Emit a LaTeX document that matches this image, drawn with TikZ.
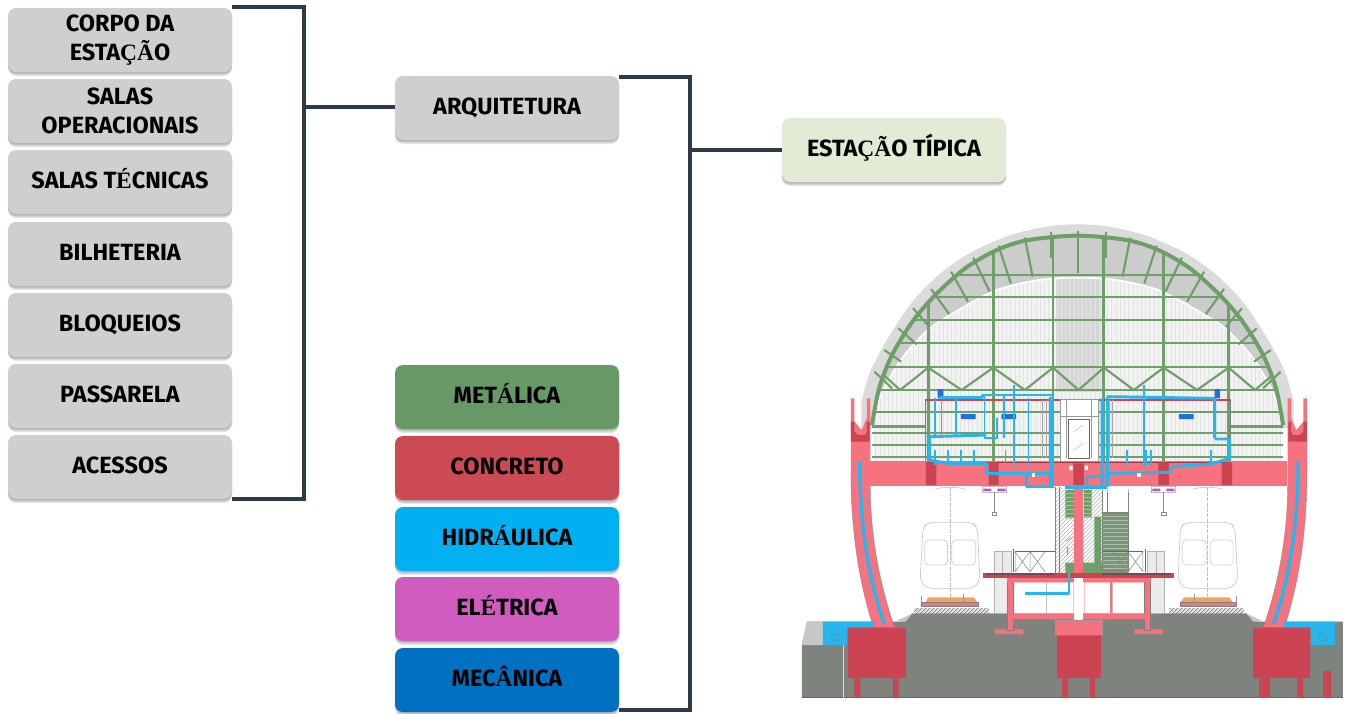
\documentclass[tikz,border=0pt]{standalone}
\usepackage{fontspec}
\usetikzlibrary{shadows,patterns}
\setmainfont{Fira Sans}[BoldFont={Fira Sans Bold}]
\newfontfamily\accfont{Liberation Serif}[BoldFont={Liberation Serif Bold}]
\newcommand{\sr}[1]{{\accfont\bfseries #1}}
\definecolor{barcol}{HTML}{2D3A4A}
\definecolor{boxgray}{HTML}{D0CECE}
\definecolor{boxgreen}{HTML}{E2EBD3}
\definecolor{cmet}{HTML}{669965}
\definecolor{ccon}{HTML}{CB4A54}
\definecolor{chid}{HTML}{00B0F0}
\definecolor{cele}{HTML}{D05CC0}
\definecolor{cmec}{HTML}{0070C0}
\definecolor{spink}{HTML}{F7727F}
\definecolor{sdark}{HTML}{CC4452}
\definecolor{sgreen}{HTML}{6F9F68}
\definecolor{scyan}{HTML}{24B6EC}
\definecolor{sblue}{HTML}{1F6FE0}
\definecolor{sground}{HTML}{7F837E}
\definecolor{spurple}{HTML}{C050C8}
\definecolor{sorange}{HTML}{E8A860}
\tikzset{
  cardbox/.style={rounded corners=6pt,minimum width=168pt,minimum height=48pt,inner sep=0pt,align=center,
    font=\fontsize{17.6}{21.8}\selectfont\bfseries,text=black,
    general shadow={fill=black,opacity=.10,shadow yshift=-1pt},
    general shadow={fill=black,opacity=.12,shadow yshift=-2pt},
    general shadow={fill=black,opacity=.10,shadow yshift=-3pt},fill=boxgray},
  oneline/.style={text height=12pt,text depth=2pt},
  conn/.style={draw=barcol,line width=3.2pt},
  z2/.style={shift={(800,215)},x=.2635pt,y=-.25pt},
  z3/.style={shift={(800,440)},x=.2635pt,y=-.25pt},
  grn/.style={draw=sgreen,line width=2.2pt},
  grnthin/.style={draw=sgreen,line width=1.6pt},
  pipe/.style={draw=scyan,line width=2.2pt,line join=round},
  pipethin/.style={draw=scyan,line width=1.3pt},
  thingray/.style={draw=black!30,line width=.4pt},
}
\newcommand{\greenpts}{(205,630)(225,520)(262,420)(320,320)(385,240)(470,160)(560,105)(650,75)(790,62)(930,75)(1020,105)(1110,160)(1195,240)(1260,320)(1318,420)(1355,520)(1375,630)}
\newcommand{\outerpts}{(175,560)(200,470)(250,370)(320,260)(400,175)(490,110)(600,60)(700,35)(790,28)(880,35)(980,60)(1090,110)(1180,175)(1260,260)(1330,370)(1380,470)(1405,560)}
\newcommand{\innerpts}{(210,620)(230,540)(290,430)(370,340)(460,280)(560,225)(680,195)(790,188)(900,195)(1020,225)(1120,280)(1210,340)(1290,430)(1350,540)(1370,620)}
\newcommand{\halfstation}{%
  % arch
  \fill[spink] (145,-125) -- (155,-125) -- (155,-55) -- (175,-30) -- (190,-65) -- (190,-125) -- (200,-125)
     -- (200,140) .. controls (200,280) and (225,430) .. (270,565) -- (210,565)
     .. controls (165,420) and (145,260) .. (145,100) -- cycle;
  \fill[sdark] (145,-55) -- (155,-55) -- (155,-25) -- (165,-15) -- (185,-15) -- (190,-25) -- (190,-55) -- (198,-55) -- (198,5) -- (145,5) -- cycle;
  \draw[black!45,line width=.3pt] (200,140) .. controls (200,280) and (225,430) .. (270,565);
  \draw[black!45,line width=.3pt] (210,565) .. controls (165,420) and (145,260) .. (145,100);
  \draw[scyan,line width=2.6pt] (170,65) .. controls (170,250) and (195,420) .. (240,552);
  % cyan box
  \fill[scyan] (65,545) -- (210,545) -- (210,562) -- (135,562) -- (135,615) -- (65,615) -- cycle;
  \draw[black!50,line width=.3pt] (100,592) circle[radius=11];
  % train
  \draw[black!22,line width=.5pt,rounded corners=4pt] (350,262) -- (365,247) -- (490,247) -- (505,262) -- (512,420) -- (495,445) -- (360,445) -- (342,420) -- cycle;
  \draw[black!18,line width=.5pt,rounded corners=3pt] (355,300) rectangle (420,375) (432,300) rectangle (500,375);
  \draw[black!25,line width=.3pt,dash pattern=on 3pt off 1pt] (428,140) -- (428,500);
  \draw[black!22,line width=.5pt] (385,148) .. controls (400,140) and (455,140) .. (470,148);
  % track
  \fill[sorange] (357,487) -- (365,472) -- (495,472) -- (505,487) -- cycle;
  \fill[spink] (345,487) rectangle (507,500);
  \draw[black!50,line width=.3pt] (345,487) rectangle (507,500);
  \draw[black!40,line width=.4pt] (345,487) -- (345,468) (465,487) -- (465,462);
  \fill[black!10] (325,505) rectangle (537,520);
  \fill[pattern=north east lines,pattern color=black!55] (325,506) rectangle (537,519);
  % hanger
  \fill[spurple] (522,146) rectangle (545,153) (562,146) rectangle (585,153);
  \draw[black!25,line width=.4pt] (520,140) rectangle (587,157);
  \draw[black!45,line width=.4pt] (553,157) -- (553,218);
  \draw[black!45,line width=.4pt] (546,218) rectangle (560,226);
  \fill[black!45] (587,152) rectangle (727,157);
  \fill[white] (589,153) rectangle (725,156);
  % platform side
  \fill[black!8] (552,335) rectangle (600,520);
  \draw[black!30,line width=.3pt] (552,335) rectangle (600,520) (575,335) -- (575,400);
  % railing
  \foreach \xa in {612,655}{
    \draw[black!45,line width=.4pt] (\xa,335) -- (\xa+42,395) (\xa+42,335) -- (\xa,395) (\xa,335) -- (\xa,395);
  }
  \draw[black!60,line width=.5pt] (606,328) -- (606,395) (612,335) -- (725,335);
  % platform frame
  \fill[spink] (590,415) rectangle (607,570) (555,568) rectangle (636,582) (605,522) rectangle (790,538);
  \fill[pink] (607,425) rectangle (780,520);
  \fill[white] (610,428) rectangle (778,519);
  \draw[black!25,line width=.4pt] (700,428) -- (700,519);
  \draw[black!50,line width=.2pt] (590,415) rectangle (607,570);
  % column foot
  \fill[sdark] (135,562) rectangle (301,715);
  \draw[black!50,line width=.3pt] (135,562) rectangle (301,715);
  \fill[sdark] (155,715) rectangle (172,773) (265,715) rectangle (281,773);
}
\begin{document}
\begin{tikzpicture}[x=.75pt,y=-.75pt]
\useasboundingbox (0,0) rectangle (1350,714);
\fill[white] (0,0) rectangle (1350,714);

% ---------- station drawing ----------
\begin{scope}[z3]
  \fill[sground] (5,773) -- (5,615) -- (20,545) -- (285,545) -- (320,520) -- (1270,520) -- (1305,545) -- (1545,545) -- (1545,773) -- cycle;
  \fill[black!22] (5,615) -- (20,545) -- (65,545) -- (65,615) -- cycle;
  \fill[black!22] (270,545) -- (320,520) -- (300,545) -- cycle;
  \fill[black!22] (1290,545) -- (1270,520) -- (1320,545) -- cycle;
  \fill[black!60] (5,770) rectangle (1545,773);
  \draw[white!85!black,line width=1pt] (123,615) -- (123,773);
  \fill[sdark] (1488,692) rectangle (1510,773);
\end{scope}

\begin{scope}[z2]
  % dome
  \fill[black!14] plot[smooth] coordinates {\outerpts} -- (1405,640) -- (175,640) -- cycle;
  \fill[black!20] plot[smooth] coordinates {\greenpts} -- cycle;
  % interior
  \fill[black!5] plot[smooth] coordinates {\innerpts} -- (1370,740) -- (210,740) -- cycle;
  \begin{scope}
    \clip plot[smooth] coordinates {\innerpts} -- (1370,740) -- (210,740) -- cycle;
    \fill[black!16] (728,180) rectangle (858,530);
    \foreach \xx in {215,227,...,1370}{\draw[black!11,line width=.25pt] (\xx,190) -- (\xx,740);}
  \end{scope}
  \draw[white,line width=1.3pt] plot[smooth] coordinates {\innerpts};
  % ribs
  \foreach \xa/\ya/\xb/\yb in {640/68/662/185,565/92/600/205,493/128/540/230,430/170/478/260,373/222/425/298,322/280/368/335,280/340/332/388,240/405/288/440,212/470/262/520}{
    \draw[grnthin] (\xa,\ya) -- (\xb,\yb);
    \draw[grnthin] (1580-\xa,\ya) -- (1580-\xb,\yb);
  }
  \draw[grnthin] (792,48) -- (792,175);
  \draw[grnthin] (715,52) -- (715,130) (870,52) -- (870,130);
  % grid clipped by arch
  \begin{scope}
    \clip plot[smooth] coordinates {\greenpts} -- (1375,740) -- (205,740) -- cycle;
    \foreach \yy in {180,245,315,385,455,525,590,655,690,725}{\draw[grn,line width=1.5pt] (190,\yy) -- (1390,\yy);}
    \draw[grn] (190,634) -- (358,634) (1225,634) -- (1390,634);
    \foreach \xx in {365,550,720,865,1035,1220}{\draw[grn] (\xx,50) -- (\xx,740);}
    \foreach \xa/\xb in {215/285,365/285,365/460,550/460,550/640,720/640,720/793,865/793,865/950,1035/950,1035/1130,1220/1130,1220/1295,1370/1295}{
      \draw[grnthin] (\xa,458) -- (\xb,525);
    }
  \end{scope}
  % arch main
  \draw[sgreen,line width=3pt] plot[smooth] coordinates {\greenpts};
  % room top lines
  \draw[sdark,line width=1.5pt] (358,555) -- (740,555) (848,555) -- (1225,555);
  \draw[black!50,line width=.5pt] (358,552) -- (358,740) (1225,552) -- (1225,740);
  % centre core
  \fill[white] (740,552) rectangle (850,740);
  \draw[black!40,line width=.5pt] (740,552) rectangle (850,740) (758,555) -- (758,730) (830,555) -- (830,730) (740,605) -- (850,605);
  \draw[black!60,line width=.7pt] (763,612) rectangle (825,730);
  \draw[black!25,line width=.4pt] (780,650) -- (805,630) (780,705) -- (805,685);
  \draw[black!35,line width=.4pt] (690,555) -- (690,730) (700,555) -- (700,730) (880,555) -- (880,730) (890,555) -- (890,730);
  % slab
  \fill[spink] (200,740) rectangle (1385,810);
  \draw[sdark!80!black,line width=1.2pt] (360,742) -- (1225,742);
  \draw[black!40,line width=.4pt] (200,738) -- (1385,738) (200,810) -- (1385,810);
  \fill[sdark] (358,742) rectangle (388,810) (537,742) rectangle (565,810) (778,745) rectangle (808,810) (1020,742) rectangle (1050,810) (1200,742) rectangle (1230,810);
  % blue boxes
  \fill[sblue] (392,522) rectangle (408,550) (1180,522) rectangle (1195,550) (458,597) rectangle (500,612) (573,597) rectangle (615,612) (1078,597) rectangle (1120,612);
\end{scope}

% lower centre
\begin{scope}[z3]
  \fill[white] (728,145) rectangle (860,400);
  \fill[pattern=north east lines,pattern color=black!30] (728,145) rectangle (780,400);
  \fill[pattern=north east lines,pattern color=black!30] (805,145) rectangle (860,400);
  \draw[black!50,line width=.5pt] (727,140) -- (727,400) (738,140) -- (738,400);
  \fill[sgreen] (755,150) rectangle (780,235) (808,150) rectangle (830,230) (860,218) rectangle (935,392) (838,230) rectangle (858,400) (755,368) rectangle (935,400);
  \foreach \yy in {228,240,...,390}{\draw[black!28,line width=.3pt] (860,\yy) -- (935,\yy);}
  \foreach \yy in {160,172,...,232}{\draw[black!28,line width=.3pt] (755,\yy) -- (780,\yy) (808,\yy) -- (830,\yy);}
  \draw[black!50,line width=.4pt] (860,150) -- (860,218) (875,150) -- (875,218) (935,150) -- (935,218) (860,218) rectangle (935,392);
  \draw[black!35,line width=.4pt] (860,155) -- (1000,155);
  \fill[spink] (780,140) rectangle (806,405);
  \draw[scyan,line width=.8pt] (762,345) -- (762,320);
  \draw[black!40,line width=.4pt] (757,303) -- (778,290);
  \fill[white] (780,415) rectangle (806,540);
\end{scope}

\begin{scope}[z3]
  \halfstation
\end{scope}
\begin{scope}[shift={(800,440)},x=-.2635pt,y=-.25pt,xshift=418.4pt]
  \halfstation
\end{scope}

\begin{scope}[z3]
  % platform slab
  \fill[sdark] (520,400) rectangle (1065,414);
  \fill[black!70] (530,400) rectangle (725,404) (860,400) rectangle (1055,404);
  \fill[spink] (590,415) rectangle (1000,426);
  \draw[spink,line width=1pt] (885,425) -- (885,520);
  % pipe under platform
  \draw[pipe,line width=1.8pt] (640,460) -- (765,460) -- (765,400);
  % footing
  \fill[spink] (725,540) rectangle (860,585);
  \fill[spink] (605,522) rectangle (985,538);
  \fill[white] (780,415) rectangle (806,538);
  \draw[black!40,line width=.3pt] (725,540) rectangle (860,585);
  \fill[sdark] (728,585) rectangle (858,715);
  \draw[black!50,line width=.3pt] (728,585) rectangle (858,715);
  \fill[sdark] (745,715) rectangle (763,773) (825,715) rectangle (840,773);
  \fill[sdark] (1322,715) rectangle (1337,773);
  \draw[black!50,line width=.3pt] (1355,715) -- (1355,773) (1395,715) -- (1395,773);
\end{scope}

% pipes upper
\begin{scope}[z2]
  \draw[pipe] (395,548) -- (520,548) -- (520,540) -- (720,540) -- (720,820);
  \draw[pipe,line width=2.6pt] (715,545) -- (715,820);
  \draw[pipe] (860,550) -- (860,820) (875,545) -- (875,815) (1180,670) -- (1180,550) -- (875,545);
  \draw[pipe] (370,665) -- (530,660);
  \draw[pipe] (368,665) -- (368,735) -- (420,745) -- (530,745) -- (530,775) -- (720,775);
  \draw[pipe] (645,775) -- (645,815) -- (720,815);
  \draw[pipe] (1180,672) -- (1222,672) -- (1222,730) -- (1170,747) -- (1060,755) -- (1050,772) -- (880,775);
  \draw[pipe] (815,820) -- (815,785) -- (875,785);
  \draw[pipe] (755,817) -- (875,817);
  \foreach \xx/\ya/\yb in {385/550/660,403/550/660,443/550/660,525/540/670,580/540/670,610/510/750,650/550/750,980/510/760,1180/550/670}{
    \draw[pipethin] (\xx,\ya) -- (\xx,\yb);
  }
  \foreach \xx in {385,422,458,495,585,650,930,985,1000,1170}{\draw[pipethin] (\xx,705) -- (\xx,750);}
  \draw[pipethin] (525,670) -- (560,670) -- (560,610);
  \foreach \xx in {660,960}{\fill[white] (\xx,775) rectangle (\xx+10,785);}
  \fill[white] (767,752) rectangle (776,765) (810,752) rectangle (819,765);
\end{scope}

% ---------- nodes ----------
\node[cardbox] (corpo) at (120,40) {CORPO DA\\ESTA\sr{ÇÃ}O};
\node[cardbox] (salasop) at (120,111) {SALAS\\OPERACIONAIS};
\node[cardbox,oneline] (salastec) at (120,182) {SALAS T\sr{É}CNICAS};
\node[cardbox,oneline] (bilh) at (120,254) {BILHETERIA};
\node[cardbox,oneline] (bloq) at (120,325) {BLOQUEIOS};
\node[cardbox,oneline] (pass) at (120,396) {PASSARELA};
\node[cardbox,oneline] (aces) at (120,467) {ACESSOS};
\node[cardbox,oneline] (arq) at (507,108) {ARQUITETURA};
\node[cardbox,oneline,fill=cmet] (met) at (507,397) {MET\sr{Á}LICA};
\node[cardbox,oneline,fill=ccon] (con) at (507,468) {CONCRETO};
\node[cardbox,oneline,fill=chid] (hid) at (507,539) {HIDR\sr{Á}ULICA};
\node[cardbox,oneline,fill=cele] (ele) at (507,609) {EL\sr{É}TRICA};
\node[cardbox,oneline,fill=cmec] (mec) at (507,680) {MEC\sr{Â}NICA};
\node[cardbox,oneline,fill=boxgreen] (est) at (894,150) {ESTA\sr{ÇÃ}O TÍPICA};

% ---------- connectors ----------
\coordinate (busa) at (304,107);
\coordinate (busb) at (690,150);
\draw[conn] ([yshift=.75pt]corpo.north east) -| (busa) |- (aces.south east);
\draw[conn] (busa) -- (busa -| arq.west);
\draw[conn] ([yshift=-.75pt]arq.north east) -| (busb) |- ([yshift=1.5pt]mec.south east);
\draw[conn] (busb) -- (est.west);
\end{tikzpicture}
\end{document}
